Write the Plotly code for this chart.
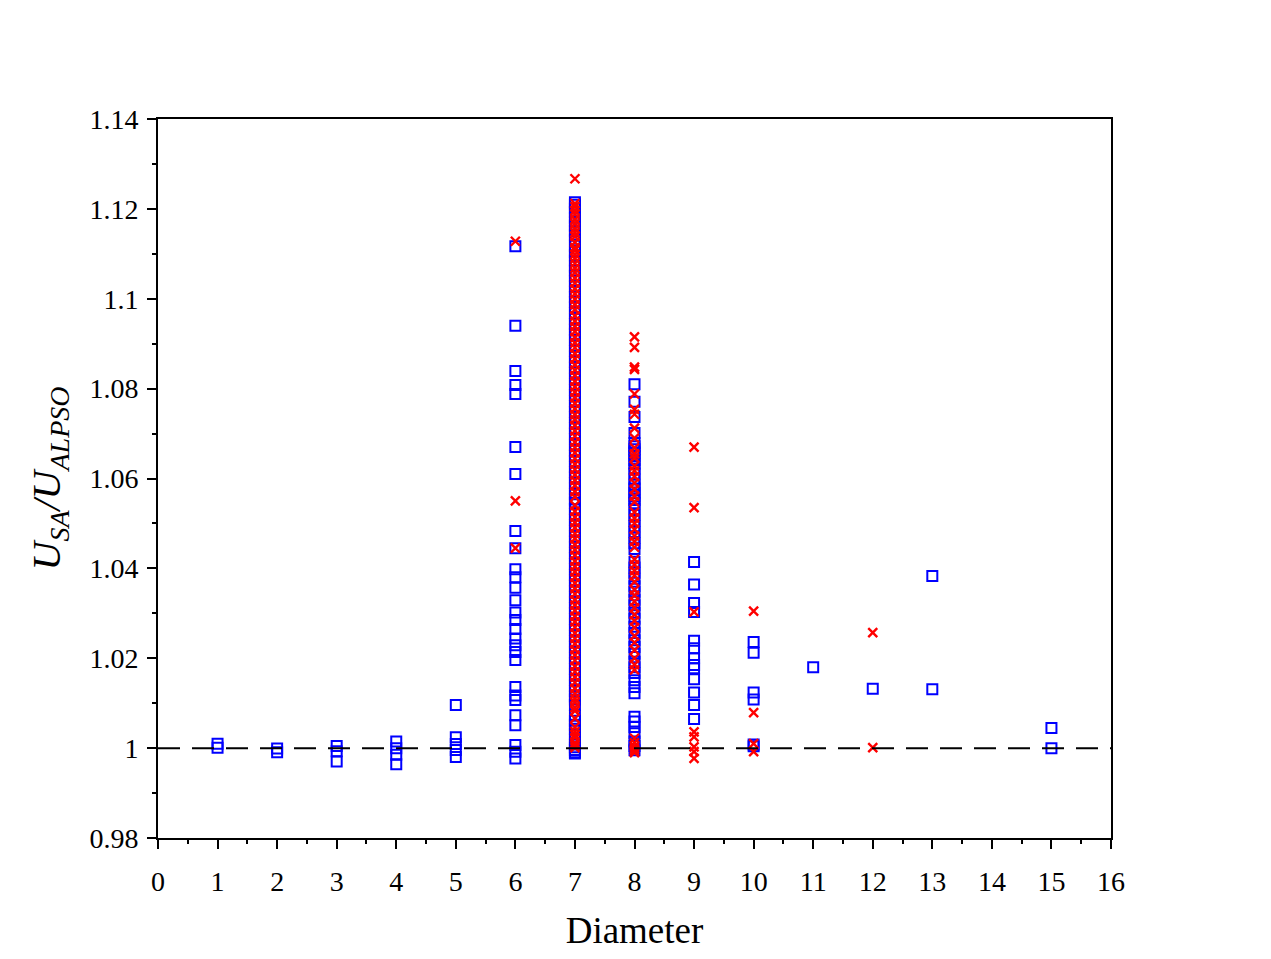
import plotly.graph_objects as go

# ---- data ----
x_ticks = list(range(0, 17))
y_tickvals = [0.98, 1.0, 1.02, 1.04, 1.06, 1.08, 1.10, 1.12, 1.14]
y_ticktext = ["0.98", "1", "1.02", "1.04", "1.06", "1.08", "1.1", "1.12", "1.14"]

blue_d1 = [1.0010, 1.0001]
blue_d2 = [0.9999, 0.9991]
blue_d3 = [1.0005, 0.9993, 0.9970]
blue_d4 = [1.0015, 1.0000, 0.9985, 0.9964]
blue_d5 = [1.0096, 1.0024, 1.0009, 0.9996, 0.9980]
blue_d6 = [1.1117, 1.0940, 1.0839, 1.0808, 1.0788, 1.0670, 1.0610, 1.0483, 1.0445,
           1.0398, 1.0380, 1.0357, 1.0329, 1.0302, 1.0285, 1.0265, 1.0244, 1.0229,
           1.0214, 1.0196, 1.0136, 1.0117, 1.0107, 1.0073, 1.0051, 1.0007, 0.9992, 0.9977]
blue_d7 = [1.1215, 1.1209, 1.1201, 1.1193, 1.1180, 1.1172, 1.1163, 1.1151, 1.1143, 1.1130,
           1.1118, 1.1104, 1.1097, 1.1085, 1.1072, 1.1063, 1.1051, 1.1040, 1.1027, 1.1016,
           1.1004, 1.0993, 1.0981, 1.0968, 1.0955, 1.0944, 1.0931, 1.0922, 1.0908, 1.0896,
           1.0884, 1.0871, 1.0860, 1.0847, 1.0836, 1.0822, 1.0810, 1.0797, 1.0786, 1.0772,
           1.0761, 1.0748, 1.0737, 1.0723, 1.0712, 1.0700, 1.0688, 1.0675, 1.0662, 1.0651,
           1.0639, 1.0626, 1.0614, 1.0603, 1.0590, 1.0578, 1.0565, 1.0553, 1.0546, 1.0532,
           1.0521, 1.0508, 1.0496, 1.0484, 1.0471, 1.0460, 1.0447, 1.0435, 1.0423, 1.0410,
           1.0398, 1.0386, 1.0373, 1.0362, 1.0349, 1.0337, 1.0324, 1.0312, 1.0300, 1.0287,
           1.0275, 1.0263, 1.0250, 1.0238, 1.0226, 1.0213, 1.0201, 1.0189, 1.0176, 1.0164,
           1.0152, 1.0139, 1.0127, 1.0115, 1.0108, 1.0096, 1.0072, 1.0061, 1.0052, 1.0043,
           1.0031, 1.0019, 1.0008, 1.0002, 0.9996, 0.9991, 0.9988]
blue_d8 = [1.0810, 1.0771, 1.0737, 1.0701, 1.0679, 1.0672, 1.0665, 1.0658, 1.0650, 1.0641,
           1.0633, 1.0622, 1.0611, 1.0598, 1.0586, 1.0578, 1.0569, 1.0560, 1.0552, 1.0545,
           1.0532, 1.0519, 1.0506, 1.0494, 1.0481, 1.0468, 1.0456, 1.0443, 1.0415, 1.0402,
           1.0390, 1.0377, 1.0360, 1.0348, 1.0330, 1.0318, 1.0301, 1.0288, 1.0270, 1.0256,
           1.0240, 1.0225, 1.0210, 1.0192, 1.0180, 1.0167, 1.0151, 1.0136, 1.0122, 1.0070,
           1.0059, 1.0047, 1.0033, 1.0015, 1.0005, 0.9995]
blue_d9 = [1.0414, 1.0364, 1.0323, 1.0303, 1.0239, 1.0222, 1.0200, 1.0185, 1.0178,
           1.0153, 1.0124, 1.0096, 1.0065]
blue_d10 = [1.0236, 1.0212, 1.0124, 1.0108, 1.0008, 1.0004]
blue_d11 = [1.0180]
blue_d12 = [1.0132]
blue_d13 = [1.0383, 1.0131]
blue_d15 = [1.0045, 1.0000]

red_d6 = [1.1128, 1.0550, 1.0445]
red_d7 = [1.1267, 1.1212, 1.1205, 1.1196, 1.1188, 1.1176, 1.1167, 1.1156, 1.1147, 1.1139,
          1.1126, 1.1114, 1.1108, 1.1099, 1.1090, 1.1079, 1.1068, 1.1058, 1.1046, 1.1035,
          1.1022, 1.1011, 1.0999, 1.0987, 1.0976, 1.0962, 1.0950, 1.0938, 1.0927, 1.0914,
          1.0902, 1.0891, 1.0878, 1.0866, 1.0853, 1.0841, 1.0829, 1.0816, 1.0804, 1.0792,
          1.0780, 1.0767, 1.0755, 1.0742, 1.0731, 1.0718, 1.0706, 1.0694, 1.0681, 1.0669,
          1.0657, 1.0644, 1.0632, 1.0620, 1.0608, 1.0596, 1.0584, 1.0571, 1.0559, 1.0540,
          1.0527, 1.0514, 1.0502, 1.0490, 1.0477, 1.0466, 1.0453, 1.0441, 1.0429, 1.0416,
          1.0404, 1.0392, 1.0380, 1.0367, 1.0355, 1.0343, 1.0330, 1.0318, 1.0306, 1.0293,
          1.0281, 1.0269, 1.0256, 1.0244, 1.0232, 1.0219, 1.0207, 1.0195, 1.0182, 1.0170,
          1.0158, 1.0146, 1.0133, 1.0121, 1.0110, 1.0102, 1.0090, 1.0083, 1.0066, 1.0047,
          1.0037, 1.0030, 1.0024, 1.0012, 1.0006, 1.0001]
red_d8 = [1.0915, 1.0892, 1.0848, 1.0843, 1.0788, 1.0754, 1.0743, 1.0712, 1.0690, 1.0668,
          1.0655, 1.0646, 1.0628, 1.0617, 1.0604, 1.0590, 1.0576, 1.0561, 1.0548, 1.0525,
          1.0512, 1.0500, 1.0487, 1.0472, 1.0460, 1.0447, 1.0420, 1.0408, 1.0395, 1.0384,
          1.0370, 1.0352, 1.0340, 1.0326, 1.0312, 1.0297, 1.0283, 1.0268, 1.0250, 1.0235,
          1.0218, 1.0200, 1.0186, 1.0174, 1.0022, 1.0012, 1.0004, 0.9999, 0.9994, 0.9990]
red_d9 = [1.0670, 1.0535, 1.0303, 1.0036, 1.0025, 1.0003, 0.9992, 0.9977]
red_d10 = [1.0305, 1.0079, 1.0010, 0.9992]
red_d12 = [1.0257, 1.0001]

blue_groups = {1: blue_d1, 2: blue_d2, 3: blue_d3, 4: blue_d4, 5: blue_d5, 6: blue_d6,
               7: blue_d7, 8: blue_d8, 9: blue_d9, 10: blue_d10, 11: blue_d11,
               12: blue_d12, 13: blue_d13, 15: blue_d15}
red_groups = {6: red_d6, 7: red_d7, 8: red_d8, 9: red_d9, 10: red_d10, 12: red_d12}

reference_level = 1.0

bx, by = [], []
for d, vals in blue_groups.items():
    bx += [d] * len(vals)
    by += vals
rx, ry = [], []
for d, vals in red_groups.items():
    rx += [d] * len(vals)
    ry += vals

FONT = "Liberation Serif, Times New Roman, serif"

fig = go.Figure()
fig.add_trace(go.Scatter(
    x=bx, y=by, mode="markers", name="SA",
    marker=dict(symbol="square-open", size=10, color="#0000ff", line=dict(width=2, color="#0000ff")),
))
fig.add_trace(go.Scatter(
    x=rx, y=ry, mode="markers", name="ALPSO",
    marker=dict(symbol="x-thin", size=9, color="#ff0000", line=dict(width=2.4, color="#ff0000")),
))
fig.add_trace(go.Scatter(
    x=[0, 16], y=[reference_level, reference_level], mode="lines",
    line=dict(color="black", width=2, dash="22px,12px"), hoverinfo="skip",
))

fig.update_layout(
    width=1271, height=959,
    margin=dict(l=158, r=160, t=119, b=121),
    paper_bgcolor="white", plot_bgcolor="white",
    showlegend=False,
    font=dict(family=FONT, color="black", size=28),
)
fig.update_xaxes(
    range=[0, 16], tickvals=x_ticks, ticktext=[str(v) for v in x_ticks],
    ticks="outside", ticklen=9, tickwidth=1.5, tickcolor="black",
    minor=dict(ticks="outside", ticklen=4, tickwidth=1.5, tickcolor="black", dtick=0.5, showgrid=False),
    showline=True, linecolor="black", linewidth=2, mirror=True,
    showgrid=False, zeroline=False,
    tickfont=dict(size=28, family=FONT),
    ticklabelstandoff=8,
    title=dict(text="Diameter", font=dict(size=37, family=FONT), standoff=22),
)
fig.update_yaxes(
    range=[0.98, 1.14], tickvals=y_tickvals, ticktext=y_ticktext,
    ticks="outside", ticklen=9, tickwidth=1.5, tickcolor="black",
    minor=dict(ticks="outside", ticklen=4, tickwidth=1.5, tickcolor="black", dtick=0.01, showgrid=False),
    showline=True, linecolor="black", linewidth=2, mirror=True,
    showgrid=False, zeroline=False,
    tickfont=dict(size=28, family=FONT),
    ticklabelstandoff=3,
    title=dict(text="<i>U<sub>SA</sub>/U<sub>ALPSO</sub></i>", font=dict(size=40, family=FONT), standoff=16),
)

fig.write_html("out.html")
